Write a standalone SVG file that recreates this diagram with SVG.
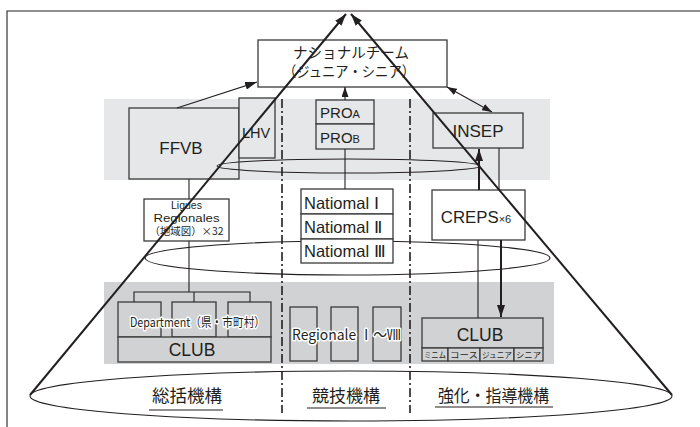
<svg xmlns="http://www.w3.org/2000/svg" width="700" height="427" viewBox="0 0 700 427">
<defs>
<marker id="ah" viewBox="0 0 12 8" refX="12" refY="4" markerWidth="12" markerHeight="8" markerUnits="userSpaceOnUse" orient="auto-start-reverse">
<path d="M0,0 L12,4 L0,8 Z" fill="#231f20"/>
</marker>
<marker id="ahs" viewBox="0 0 10 7" refX="10" refY="3.5" markerWidth="10" markerHeight="7" markerUnits="userSpaceOnUse" orient="auto-start-reverse">
<path d="M0,0 L10,3.5 L0,7 Z" fill="#231f20"/>
</marker>
</defs>
<style>
.box{stroke:#3a3a3a;stroke-width:1.3}
.w{fill:#fff}
.g1{fill:#e6e7e8}
.g2{fill:#d1d2d4}
.ln{stroke:#231f20;stroke-width:1.1;fill:none}
.th{stroke:#231f20;stroke-width:2;fill:none}
.ell{stroke:#231f20;stroke-width:1.1;fill:none}
.dd{stroke:#231f20;stroke-width:1.6;stroke-dasharray:9,3,2,3;fill:none}
.t{font-family:"Liberation Sans",Arial,sans-serif;fill:#231f20;text-anchor:middle}
.ts{font-family:"Liberation Sans",Arial,sans-serif;fill:#231f20;text-anchor:start}
.j{font-family:"Noto Sans CJK JP","Liberation Sans",sans-serif;fill:#231f20;text-anchor:middle}
.halo{stroke:#fff;stroke-width:3;paint-order:stroke;stroke-linejoin:round}
</style>
<rect width="700" height="427" fill="#fff"/>
<path d="M7,427 V11 H700" class="ln" stroke-width="1.3"/>
<!-- bands -->
<rect x="104" y="99" width="446" height="81" class="g1"/>
<rect x="104" y="282" width="450" height="82" class="g2"/>
<!-- dash-dot separators -->
<g id="separators">
<line x1="282" y1="99" x2="282" y2="413" class="dd"/>
<line x1="410" y1="99" x2="410" y2="413" class="dd"/>
</g>
<!-- ellipses -->
<g id="ellipses">
<ellipse cx="348.5" cy="166" rx="131.5" ry="7" class="ell"/>
<ellipse cx="347.5" cy="258" rx="202.5" ry="17" class="ell"/>
<ellipse cx="351" cy="396" rx="321" ry="25" class="ell"/>
</g>
<g id="national">
<rect x="258" y="40" width="189" height="47" class="box w"/>
<text x="351" y="58" class="j" font-size="14.5" textLength="116" lengthAdjust="spacingAndGlyphs">ナショナルチーム</text>
<text x="349" y="77" class="j" font-size="14.5" textLength="132" lengthAdjust="spacingAndGlyphs">（ジュニア・シニア）</text>
</g>
<g id="ffvb">
<rect x="129" y="108" width="110" height="71" class="box" fill="none"/>
<text x="181" y="154" class="t" font-size="17">FFVB</text>
</g>
<g id="lhv">
<rect x="239" y="98" width="36" height="60" class="box g1"/>
<text x="256" y="138" class="t" font-size="14.5">LHV</text>
</g>
<g id="pro">
<rect x="316" y="100" width="58" height="24" class="box g1"/>
<rect x="316" y="124" width="58" height="25" class="box g1"/>
<text x="340" y="118" class="t" font-size="15">PRO<tspan font-size="11">A</tspan></text>
<text x="340" y="143" class="t" font-size="15">PRO<tspan font-size="11">B</tspan></text>
</g>
<g id="insep">
<rect x="433" y="113" width="90" height="35" class="box g1"/>
<text x="478" y="137" class="t" font-size="17">INSEP</text>
</g>
<g id="nationale">
<rect x="301" y="189" width="92" height="25" class="box w"/>
<rect x="301" y="214" width="92" height="25" class="box w"/>
<rect x="301" y="239" width="92" height="24" class="box w"/>
<text x="304" y="209" class="ts" font-size="16.5">Natiomal Ⅰ</text>
<text x="304" y="233" class="ts" font-size="16.5">Natiomal Ⅱ</text>
<text x="304" y="257" class="ts" font-size="16.5">Natiomal Ⅲ</text>
</g>
<g id="creps">
<rect x="432" y="190" width="93" height="50" class="box w"/>
<text x="476" y="223" class="t" font-size="16.8">CREPS<tspan font-size="11">×6</tspan></text>
</g>
<g id="ligues">
<rect x="144" y="199" width="85" height="42" class="box w"/>
<text x="186.5" y="209" class="t" font-size="10.5">Ligues</text>
<text x="186.5" y="221.5" class="t" font-size="10.5" textLength="66" lengthAdjust="spacingAndGlyphs">Regionales</text>
<text x="186.5" y="235" class="j" font-size="10.5" textLength="74" lengthAdjust="spacingAndGlyphs">（地域図）×32</text>
</g>
<g id="department">
<rect x="118" y="302" width="43" height="35" class="box g2"/>
<rect x="172" y="302" width="44" height="35" class="box g2"/>
<rect x="228" y="302" width="43" height="35" class="box g2"/>
<rect x="118" y="337" width="153" height="25" class="box g2"/>
<text x="197.5" y="327" class="j halo" font-size="12.5" textLength="135" lengthAdjust="spacingAndGlyphs">Department（県・市町村）</text>
<text x="192" y="356" class="t" font-size="17.5">CLUB</text>
</g>
<g id="regionale">
<rect x="290" y="307" width="27" height="54" class="box g2"/>
<rect x="331" y="307" width="27" height="54" class="box g2"/>
<rect x="373" y="307" width="28" height="54" class="box g2"/>
<text x="346.5" y="340" class="j halo" font-size="14.5" textLength="109" lengthAdjust="spacingAndGlyphs">Regionale Ⅰ〜Ⅷ</text>
</g>
<g id="club">
<rect x="422" y="318" width="121" height="30" class="box g2"/>
<rect x="422" y="348" width="26" height="13" class="box g2"/>
<rect x="448" y="348" width="32" height="13" class="box g2"/>
<rect x="480" y="348" width="34" height="13" class="box g2"/>
<rect x="514" y="348" width="29" height="13" class="box g2"/>
<text x="480" y="341" class="t" font-size="17.5">CLUB</text>
<text x="435" y="358" class="j" font-size="8" textLength="22" lengthAdjust="spacingAndGlyphs">ミニム</text>
<text x="464" y="358" class="j" font-size="8" textLength="28" lengthAdjust="spacingAndGlyphs">コース</text>
<text x="497" y="358" class="j" font-size="8" textLength="30" lengthAdjust="spacingAndGlyphs">ジュニア</text>
<text x="528.5" y="358" class="j" font-size="8" textLength="25" lengthAdjust="spacingAndGlyphs">シニア</text>
</g>
<g id="labels">
<text x="187" y="402" class="j" font-size="17.5" textLength="70" lengthAdjust="spacingAndGlyphs">総括機構</text>
<line x1="149" y1="410" x2="223" y2="410" class="ln" stroke-width="1.6"/>
<text x="346" y="402" class="j" font-size="17.5" textLength="68" lengthAdjust="spacingAndGlyphs">競技機構</text>
<line x1="307" y1="408" x2="386" y2="408" class="ln" stroke-width="1.6"/>
<text x="493.5" y="402" class="j" font-size="16.5" textLength="111" lengthAdjust="spacingAndGlyphs">強化・指導機構</text>
<line x1="435" y1="407" x2="553" y2="407" class="ln" stroke-width="1.6"/>
</g>
<g id="connectors">
<line x1="177" y1="108" x2="257" y2="82" class="ln" stroke-width="1.8" marker-end="url(#ah)"/>
<line x1="345" y1="100" x2="345" y2="87" class="ln" stroke-width="1.4" marker-end="url(#ahs)"/>
<line x1="345" y1="149" x2="345" y2="189" class="ln"/>
<line x1="447" y1="87" x2="492" y2="112" class="ln" stroke-width="1.3" marker-start="url(#ahs)" marker-end="url(#ahs)"/>
<line x1="479" y1="190" x2="479" y2="149" class="th" marker-end="url(#ah)"/>
<line x1="499" y1="148" x2="499" y2="190" class="ln"/>
<line x1="478" y1="240" x2="478" y2="318" class="ln"/>
<line x1="501" y1="240" x2="501" y2="317" class="th" marker-end="url(#ah)"/>
<line x1="189" y1="179" x2="189" y2="199" class="ln"/>
<path d="M189,241 V292 M134,302 V292 H250 V302 M194,292 V302" class="ln"/>
<line x1="30" y1="395" x2="346" y2="14" class="th" marker-end="url(#ah)"/>
<line x1="672" y1="395" x2="351" y2="14" class="th" marker-end="url(#ah)"/>
</g>
</svg>
